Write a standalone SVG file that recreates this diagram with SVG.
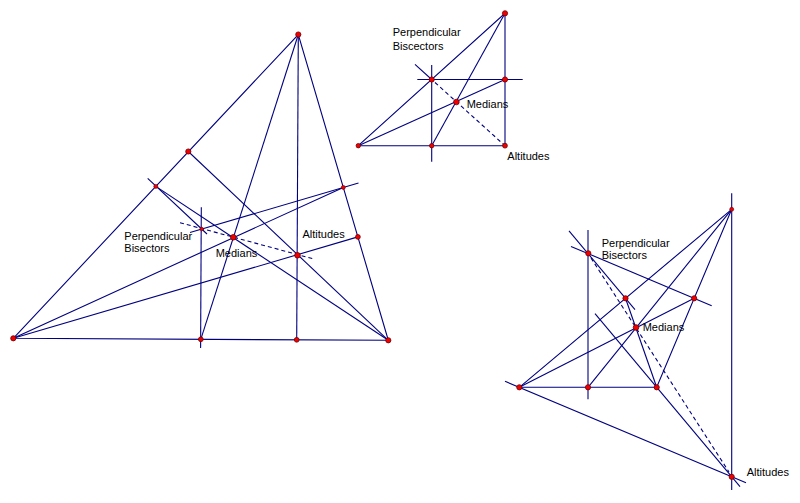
<svg xmlns="http://www.w3.org/2000/svg" width="800" height="503" viewBox="0 0 800 503">
<style>
.l{stroke:#000080;stroke-width:1.1;fill:none}
.d{stroke:#000080;stroke-width:1.1;fill:none;stroke-dasharray:4 3}
.p{fill:#f00000;stroke:#700000;stroke-width:0.8}
.s{fill:#f00000;stroke:#700000;stroke-width:0.6}
text{font-family:"Liberation Sans",Arial,sans-serif;font-size:11px;fill:#000}
</style>
<rect width="800" height="503" fill="#fff"/>
<g id="connectors">
<!-- Triangle 1 -->
<g id="t1-lines">
<path class="l" d="M13.3,338.3 L298.3,34.5 L388.3,340.3 Z"/>
<line class="l" x1="13.3" y1="338.3" x2="343.3" y2="187.4"/>
<line class="l" x1="298.3" y1="34.5" x2="200.8" y2="339.3"/>
<line class="l" x1="388.3" y1="340.3" x2="155.8" y2="186.4"/>
<line class="l" x1="13.3" y1="338.3" x2="357.9" y2="236.9"/>
<line class="l" x1="298.3" y1="34.5" x2="296.7" y2="339.8"/>
<line class="l" x1="388.3" y1="340.3" x2="188.3" y2="151.5"/>
<line class="l" x1="201.3" y1="207.3" x2="200.6" y2="348"/>
<line class="l" x1="147.7" y1="178.3" x2="207" y2="234"/>
<line class="l" x1="358.5" y1="183" x2="190" y2="232.5"/>
<line class="d" x1="180" y1="222.7" x2="315" y2="259.3"/>
</g>
<!-- Triangle 2 -->
<g id="t2-lines">
<path class="l" d="M358.3,145.7 L505,13.3 L505,145.7 Z"/>
<line class="l" x1="358.3" y1="145.7" x2="505" y2="79.5"/>
<line class="l" x1="505" y1="13.3" x2="431.7" y2="145.7"/>
<line class="l" x1="417.3" y1="79.5" x2="522.7" y2="79.5"/>
<line class="l" x1="431.7" y1="65" x2="431.7" y2="161.7"/>
<line class="l" x1="415" y1="64.3" x2="431.7" y2="79.5"/>
<line class="d" x1="435" y1="82.5" x2="505" y2="145.7"/>
</g>
<!-- Triangle 3 -->
<g id="t3-lines">
<path class="l" d="M519.3,387.3 L731.7,209.3 L656.7,387.3 Z"/>
<line class="l" x1="519.3" y1="387.3" x2="694.2" y2="298.3"/>
<line class="l" x1="731.7" y1="209.3" x2="588" y2="387.3"/>
<line class="l" x1="656.7" y1="387.3" x2="625.5" y2="298.3"/>
<line class="l" x1="731.7" y1="193.3" x2="731.7" y2="490"/>
<line class="l" x1="505" y1="381.3" x2="746" y2="482.8"/>
<line class="l" x1="595" y1="313.7" x2="740" y2="486.7"/>
<line class="l" x1="588" y1="230" x2="588" y2="399.3"/>
<line class="l" x1="569" y1="230.9" x2="635" y2="309.7"/>
<line class="l" x1="571" y1="246.4" x2="711.7" y2="305.7"/>
<line class="d" x1="591" y1="258" x2="729" y2="472"/>
</g>
</g>
<g id="t1-points">
<circle class="p" cx="13.3" cy="338.3" r="2.6"/>
<circle class="p" cx="298.3" cy="34.5" r="2.6"/>
<circle class="p" cx="388.3" cy="340.3" r="2.6"/>
<circle class="s" cx="155.8" cy="186.4" r="2"/>
<circle class="s" cx="343.3" cy="187.4" r="2"/>
<circle class="p" cx="200.8" cy="339.3" r="2.4"/>
<circle class="p" cx="188.3" cy="151.5" r="2.6"/>
<circle class="p" cx="357.9" cy="236.9" r="2.4"/>
<circle class="p" cx="296.7" cy="339.8" r="2.4"/>
<circle class="s" cx="201.7" cy="229" r="1.8"/>
<circle class="p" cx="233.3" cy="237.3" r="2.8"/>
<circle class="p" cx="297.5" cy="255.3" r="2.8"/>
</g>
<g id="t2-points">
<circle class="p" cx="358.3" cy="145.7" r="2.2"/>
<circle class="p" cx="505" cy="13.3" r="2.6"/>
<circle class="p" cx="505" cy="145.7" r="2.4"/>
<circle class="p" cx="431.7" cy="79.5" r="2.6"/>
<circle class="p" cx="505" cy="79.5" r="2.6"/>
<circle class="p" cx="431.7" cy="145.7" r="2.2"/>
<circle class="p" cx="456.4" cy="102" r="2.8"/>
</g>
<g id="t3-points">
<circle class="p" cx="519.3" cy="387.3" r="2.6"/>
<circle class="s" cx="731.7" cy="209.3" r="2"/>
<circle class="p" cx="656.7" cy="387.3" r="2.6"/>
<circle class="p" cx="625.5" cy="298.3" r="2.6"/>
<circle class="p" cx="694.2" cy="298.3" r="2.6"/>
<circle class="p" cx="588" cy="387.3" r="2.6"/>
<circle class="p" cx="588.3" cy="253.3" r="2.6"/>
<circle class="p" cx="636" cy="327.5" r="2.8"/>
<circle class="p" cx="731.7" cy="476.8" r="2.6"/>
</g>
<g id="labels">
<text x="124.3" y="240">Perpendicular</text>
<text x="124.3" y="251.7">Bisectors</text>
<text x="215.7" y="256.7">Medians</text>
<text x="302.5" y="237.5">Altitudes</text>
<text x="392.7" y="36.3">Perpendicular</text>
<text x="392.7" y="49.5">Biscectors</text>
<text x="466.7" y="108">Medians</text>
<text x="507.3" y="160">Altitudes</text>
<text x="601.7" y="246.7">Perpendicular</text>
<text x="601.7" y="259.3">Bisectors</text>
<text x="642.7" y="330.5">Medians</text>
<text x="746.7" y="475.7">Altitudes</text>
</g>
</svg>
